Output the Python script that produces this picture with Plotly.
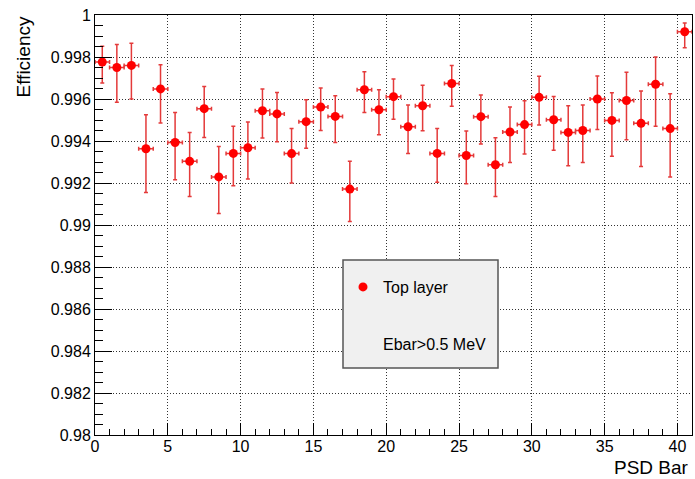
import plotly.graph_objects as go

# PSD bar index (bin centres)
bars = [i + 0.5 for i in range(41)]

# efficiency values
eff = [0.99776, 0.99750, 0.99760, 0.99363, 0.99648, 0.99393, 0.99303, 0.99554,
       0.99229, 0.99341, 0.99368, 0.99544, 0.99529, 0.99340, 0.99492, 0.99562,
       0.99517, 0.99171, 0.99644, 0.99549, 0.99611, 0.99468, 0.99568, 0.99341,
       0.99674, 0.99331, 0.99516, 0.99287, 0.99443, 0.99478, 0.99608, 0.99501,
       0.99441, 0.99450, 0.99600, 0.99498, 0.99593, 0.99484, 0.99670, 0.99459,
       0.99920]
# upper error-bar ends
eff_hi = [0.99851, 0.99859, 0.99865, 0.99525, 0.99763, 0.99536, 0.99441, 0.99660,
          0.99374, 0.99470, 0.99490, 0.99648, 0.99631, 0.99460, 0.99597, 0.99652,
          0.99616, 0.99303, 0.99730, 0.99644, 0.99695, 0.99571, 0.99665, 0.99460,
          0.99759, 0.99448, 0.99619, 0.99416, 0.99562, 0.99592, 0.99708, 0.99612,
          0.99568, 0.99571, 0.99710, 0.99630, 0.99727, 0.99638, 0.99800, 0.99625,
          0.99962]
# lower error-bar ends
eff_lo = [0.99676, 0.99584, 0.99600, 0.99155, 0.99486, 0.99216, 0.99136, 0.99417,
          0.99055, 0.99187, 0.99219, 0.99414, 0.99397, 0.99200, 0.99365, 0.99450,
          0.99393, 0.99017, 0.99536, 0.99430, 0.99503, 0.99341, 0.99449, 0.99203,
          0.99565, 0.99197, 0.99386, 0.99136, 0.99298, 0.99338, 0.99476, 0.99356,
          0.99282, 0.99298, 0.99455, 0.99327, 0.99406, 0.99279, 0.99470, 0.99229,
          0.99844]

x_ticks = [0, 5, 10, 15, 20, 25, 30, 35, 40]
y_ticks = [0.98, 0.982, 0.984, 0.986, 0.988, 0.99, 0.992, 0.994, 0.996, 0.998, 1.0]
y_ticktext = ["0.98", "0.982", "0.984", "0.986", "0.988", "0.99", "0.992",
              "0.994", "0.996", "0.998", "1"]

series_name = "Top layer"
cut_label = "Ebar>0.5 MeV"

err_up = [h - v for h, v in zip(eff_hi, eff)]
err_dn = [v - l for v, l in zip(eff, eff_lo)]

FONT = "Liberation Sans, Arial, Helvetica, sans-serif"
RED = "#ff0000"
ERR = "#e43a3a"

fig = go.Figure()
fig.add_trace(go.Scatter(
    x=bars, y=eff, mode="markers", name=series_name,
    marker=dict(color=RED, size=9, line=dict(width=0)),
    error_y=dict(type="data", symmetric=False, array=err_up, arrayminus=err_dn,
                 color=ERR, thickness=1.5, width=2),
    error_x=dict(type="constant", value=0.5, color=ERR, thickness=1.5, width=2),
))

fig.update_layout(
    width=695, height=479,
    margin=dict(l=95, r=3, t=15, b=44, autoexpand=False),
    paper_bgcolor="white", plot_bgcolor="white",
    font=dict(family=FONT, size=16, color="black"),
    showlegend=True,
    legend=dict(x=(343 - 95) / 597, y=(435 - 287) / 420, xanchor="left", yanchor="middle",
                bgcolor="rgba(0,0,0,0)", borderwidth=0,
                font=dict(family=FONT, size=16, color="black"),
                itemwidth=30),
    shapes=[dict(type="rect", xref="paper", yref="paper",
                 x0=(343 - 95) / 597, x1=(498 - 95) / 597,
                 y0=(435 - 368) / 420, y1=(435 - 260) / 420,
                 fillcolor="#f0f0f0", line=dict(color="#555555", width=1.5),
                 layer="above")],
    annotations=[
        dict(text=cut_label, xref="paper", yref="paper",
             x=(381 - 95) / 597, y=(435 - 344) / 420,
             xanchor="left", yanchor="middle", showarrow=False,
             font=dict(family=FONT, size=16)),
        dict(text="PSD Bar", xref="paper", yref="paper", x=(691 - 95) / 597,
             y=(435 - 467) / 420,
             xanchor="right", yanchor="middle", showarrow=False,
             font=dict(family=FONT, size=19)),
        dict(text="Efficiency", xref="paper", yref="paper", x=(23 - 95) / 597,
             y=(435 - 15) / 420,
             xanchor="center", yanchor="top", textangle=-90, showarrow=False,
             font=dict(family=FONT, size=19)),
    ],
)

fig.update_xaxes(
    range=[0, 41], tickvals=x_ticks, ticks="inside", ticklen=12, tickwidth=1,
    tickcolor="black", showline=True, linecolor="black", linewidth=1, mirror=True,
    showgrid=True, gridcolor="#333333", griddash="1px,2px", gridwidth=1, zeroline=False,
    minor=dict(dtick=1, ticks="inside", ticklen=6, tickcolor="black", showgrid=False),
    tickfont=dict(family=FONT, size=16), automargin=False, ticklabelstandoff=-3,
)
fig.update_yaxes(
    range=[0.98, 1.0], tickvals=y_ticks, ticktext=y_ticktext, ticks="inside",
    ticklen=17, tickwidth=1, tickcolor="black", showline=True, linecolor="black",
    linewidth=1, mirror=True, showgrid=True, gridcolor="#333333", griddash="1px,2px",
    gridwidth=1, zeroline=False,
    minor=dict(dtick=0.0005, ticks="inside", ticklen=8, tickcolor="black", showgrid=False),
    tickfont=dict(family=FONT, size=16), automargin=False,
)

fig.write_html("out.html", config={"displayModeBar": False},
               post_script="document.body.style.margin='0';document.body.style.overflow='hidden';")
